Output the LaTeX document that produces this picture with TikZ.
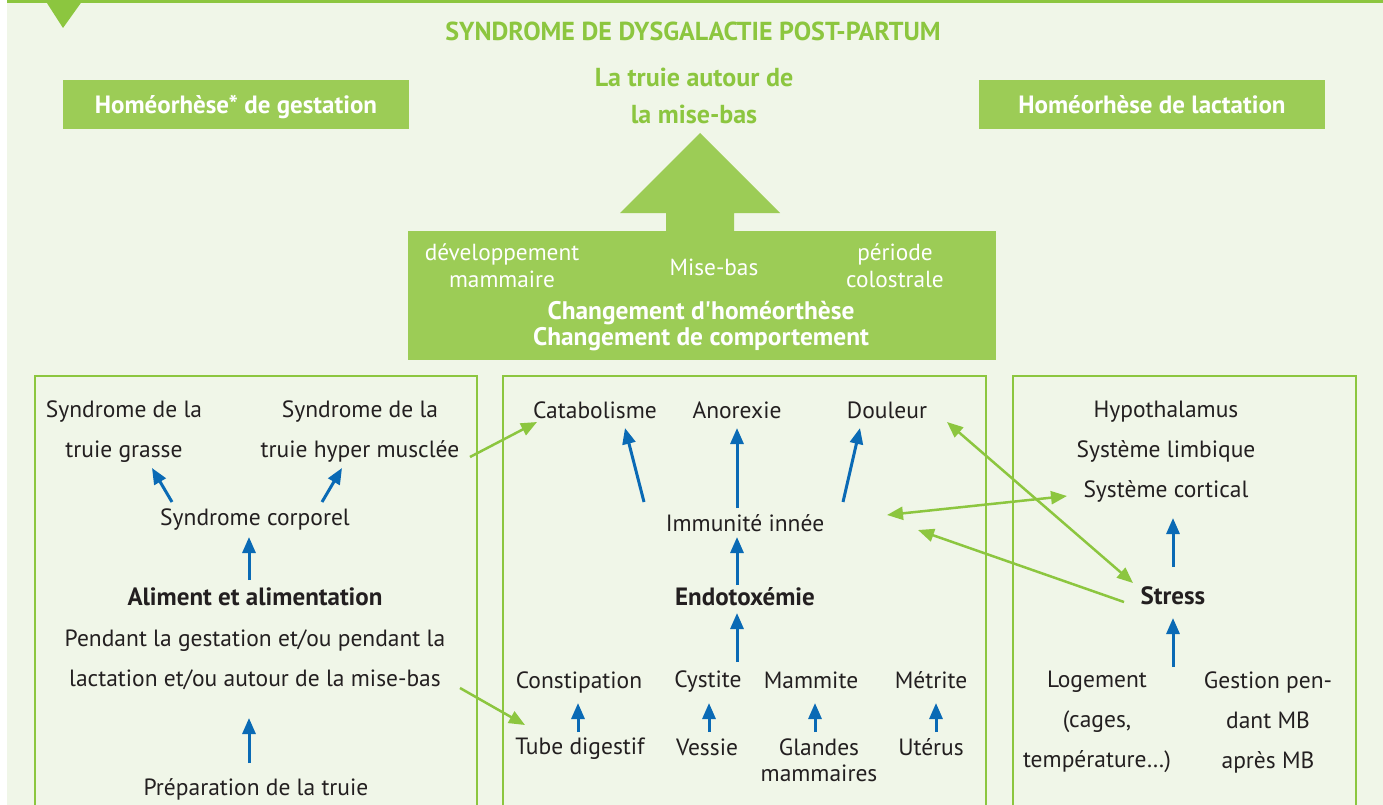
\documentclass[tikz,border=0pt]{standalone}
\usepackage{fontspec}
\setmainfont{PT Sans}
\newfontfamily\plainfam{PT Sans}[Ligatures=TeXOff]
\usetikzlibrary{arrows.meta}
\definecolor{bg}{HTML}{F0F6E8}
\definecolor{grn}{HTML}{8CC63F}
\definecolor{fillg}{HTML}{9CCC56}
\definecolor{blu}{HTML}{0A6AB5}
\definecolor{dk}{HTML}{231F20}
\begin{document}
\begin{tikzpicture}[x=1pt,y=-1pt,
  txt/.style={font=\fontsize{23.5}{40}\selectfont, text=dk, align=center, inner sep=0pt},
  btxt/.style={font=\fontsize{25}{40}\selectfont\bfseries, text=dk, align=center, inner sep=0pt},
  wtxt/.style={font=\fontsize{23.3}{27}\selectfont, text=white, align=center, inner sep=0pt},
  hbox/.style={fill=fillg, text=white, font=\fontsize{25}{26}\selectfont\bfseries, minimum width=346pt, minimum height=49pt, inner sep=0pt, text height=21pt, text depth=2pt},
  frame/.style={draw=grn, line width=2.5pt},
  barrow/.style={draw=blu, line width=3pt, -{Triangle[length=16pt,width=13pt]}},
  garrow/.style={draw=grn, line width=2.5pt, -{Triangle[length=16pt,width=13pt]}},
  gdarrow/.style={draw=grn, line width=2.5pt, {Triangle[length=16pt,width=13pt]}-{Triangle[length=16pt,width=13pt]}}]
\useasboundingbox (0,0) rectangle (1383,805);
\fill[bg] (7,0) rectangle (1383,805);
\fill[grn] (7,0) rectangle (1383,3);
\fill[grn] (45,0) -- (83,0) -- (63,28) -- cycle;

% title
\node[font=\fontsize{26}{30}\selectfont\bfseries, text=grn, inner sep=0pt] (title) at (693,31) {SYNDROME DE DYSGALACTIE POST-PARTUM};
\node[hbox] (hg) at (236,104.5) {Homéorhèse* de gestation};
\node[hbox] (hl) at (1152,104.5) {Homéorhèse de lactation};
\node[font=\fontsize{26}{37}\selectfont\bfseries, text=grn, align=center, inner sep=0pt] (truie) at (694,96) {La truie autour de\\la mise-bas};

% big arrow and block
\fill[fillg] (620,213) -- (700,133) -- (780,213) -- (734,213) -- (734,232) -- (666,232) -- (666,213) -- cycle;
\fill[fillg] (408,231) rectangle (996,360);
\node[wtxt] (dev) at (502,266) {développement\\mammaire};
\node[wtxt] (mb) at (714,267) {Mise-bas};
\node[wtxt] (per) at (895,266) {période\\colostrale};
\node[font=\fontsize{25.4}{26}\selectfont\bfseries, text=white, align=center, inner sep=0pt] (chg) at (701,326.5) {Changement d{\plainfam\bfseries '}homéorthèse\\Changement de comportement};

% frames
\draw[frame] (35,830) -- (35,376) -- (477,376) -- (477,830);
\draw[frame] (503,830) -- (503,376) -- (986,376) -- (986,830);
\draw[frame] (1013,830) -- (1013,376) -- (1356,376) -- (1356,830);

% left box
\node[txt] (sg) at (124,432) {Syndrome de la\\truie grasse};
\node[txt] (sm) at (360,432) {Syndrome de la\\truie hyper musclée};
\node[txt] (sc) at (255,520) {Syndrome corporel};
\node[btxt] (al) at (255,597) {Aliment et alimentation};
\node[txt] (pd) at (255,660) {Pendant la gestation et/ou pendant la\\lactation et/ou autour de la mise-bas};
\node[txt] (pr) at (256,789) {Préparation de la truie};

% middle box
\node[txt] (cat) at (595,410) {Catabolisme};
\node[txt] (ano) at (737,410) {Anorexie};
\node[txt] (dou) at (887,410) {Douleur};
\node[txt] (imm) at (745,523) {Immunité innée};
\node[btxt] (endo) at (745,597) {Endotoxémie};
\node[txt] (con) at (579,682) {Constipation};
\node[txt] (cys) at (708,682) {Cystite};
\node[txt] (mam) at (811,680) {Mammite};
\node[txt] (met) at (931,680) {Métrite};
\node[txt] (tub) at (580,749) {Tube digestif};
\node[txt] (ves) at (707,747) {Vessie};
\node[txt, font=\fontsize{23.5}{26}\selectfont] (gla) at (819,760) {Glandes\\mammaires};
\node[txt] (ute) at (931,747) {Utérus};

% right box
\node[txt] (hyp) at (1166,452) {Hypothalamus\\Système limbique\\Système cortical};
\node[btxt] (str) at (1173,596) {Stress};
\node[txt] (log) at (1097,722) {Logement\\(cages,\\température…)};
\node[txt] (ges) at (1268,722) {Gestion pen-\\dant MB\\après MB};

% arrow end points
\coordinate (scL) at (172,502); \coordinate (sgE) at (152,468);
\coordinate (scR) at (322,502); \coordinate (smE) at (342,468);
\coordinate (alT) at (249,580); \coordinate (scB) at (249,537);
\coordinate (prT) at (249,763); \coordinate (pdB) at (249,718);
\coordinate (imL) at (644,502); \coordinate (catE) at (625,428);
\coordinate (imC) at (737,508); \coordinate (anoE) at (737,428);
\coordinate (imR) at (843,502); \coordinate (douE) at (860,428);
\coordinate (enT) at (737,585); \coordinate (imB) at (737,537);
\coordinate (cyT) at (737,662); \coordinate (enB) at (737,613);
\coordinate (tuT) at (578,732); \coordinate (coB) at (578,703);
\coordinate (veT) at (709,732); \coordinate (cyB) at (709,703);
\coordinate (glT) at (815,732); \coordinate (maB) at (815,703);
\coordinate (utT) at (936,732); \coordinate (meB) at (936,703);
\coordinate (stT) at (1173,567); \coordinate (hyB) at (1173,518);
\coordinate (loT) at (1173,667); \coordinate (stB) at (1173,618);
\coordinate (smR) at (470,457); \coordinate (catG) at (537,422);
\coordinate (pdR) at (460,688); \coordinate (tuG) at (525,725);
\coordinate (douG) at (947,422); \coordinate (stG) at (1133,583);
\coordinate (imG) at (887,515); \coordinate (hyG) at (1067,496);
\coordinate (stL) at (1124,602); \coordinate (imG2) at (918,530);

% blue arrows
\draw[barrow] (scL) -- (sgE);
\draw[barrow] (scR) -- (smE);
\draw[barrow] (alT) -- (scB);
\draw[barrow] (prT) -- (pdB);
\draw[barrow] (imL) -- (catE);
\draw[barrow] (imC) -- (anoE);
\draw[barrow] (imR) -- (douE);
\draw[barrow] (enT) -- (imB);
\draw[barrow] (cyT) -- (enB);
\draw[barrow] (tuT) -- (coB);
\draw[barrow] (veT) -- (cyB);
\draw[barrow] (glT) -- (maB);
\draw[barrow] (utT) -- (meB);
\draw[barrow] (stT) -- (hyB);
\draw[barrow] (loT) -- (stB);

% green arrows
\draw[garrow] (smR) -- (catG);
\draw[garrow] (pdR) -- (tuG);
\draw[gdarrow] (douG) -- (stG);
\draw[gdarrow] (imG) -- (hyG);
\draw[garrow] (stL) -- (imG2);
\end{tikzpicture}
\end{document}
